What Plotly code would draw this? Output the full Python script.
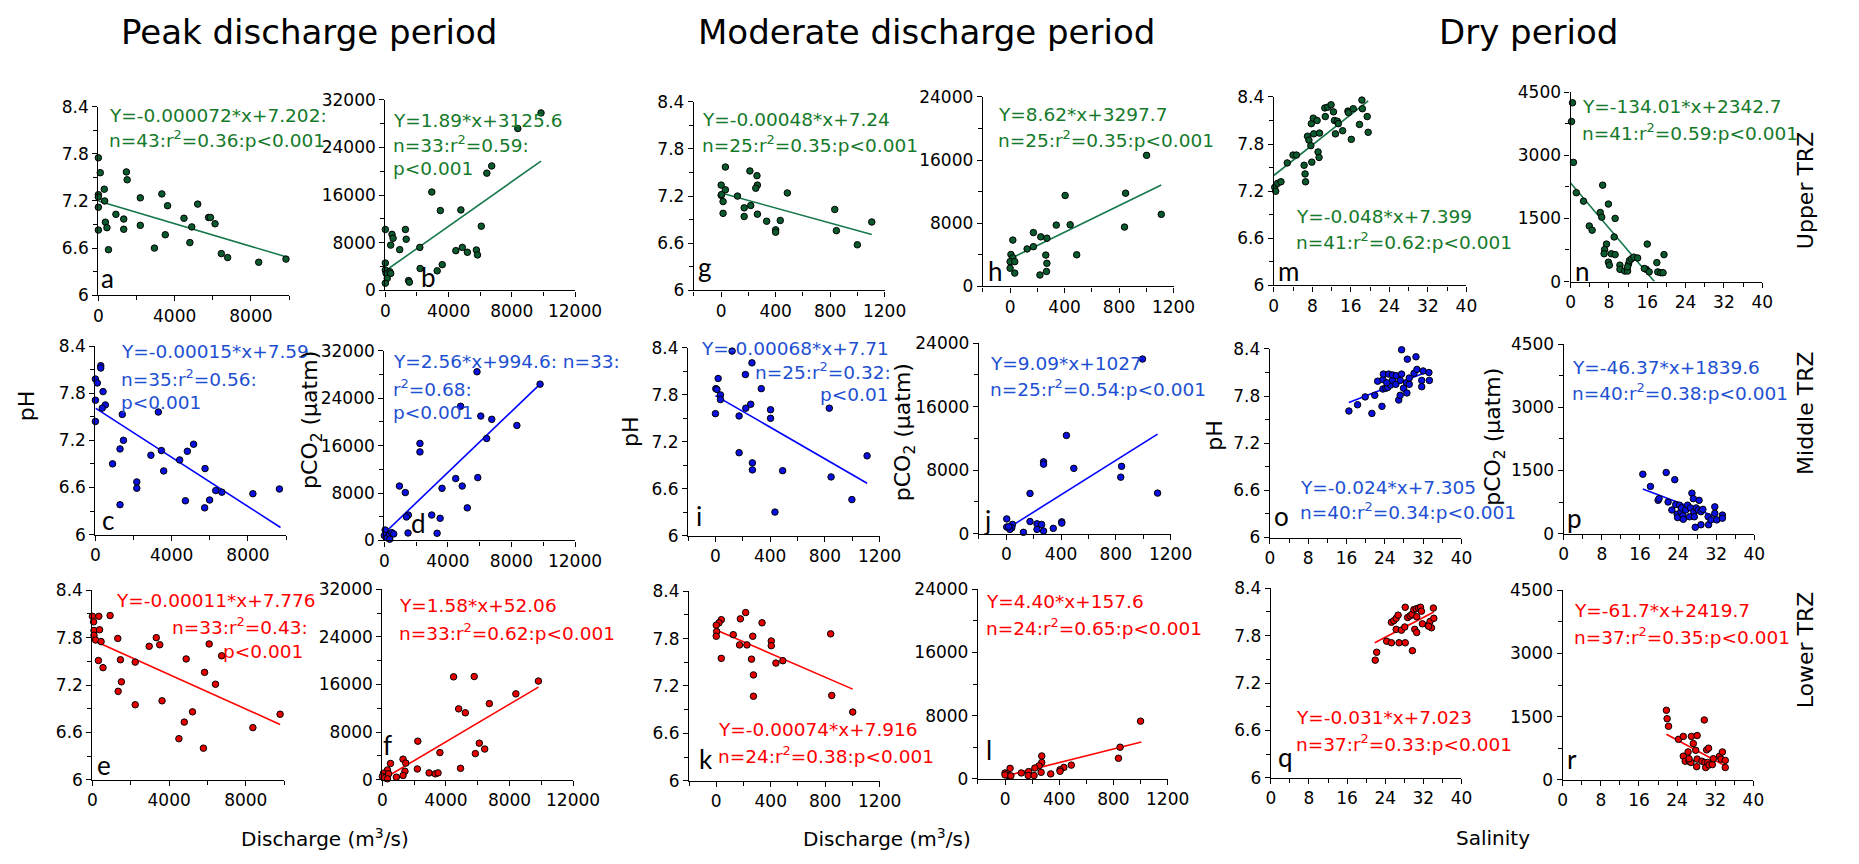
import plotly.graph_objects as go

W, H = 1859, 864

# ---------------- data ----------------
# Peak discharge period (x = discharge, m3/s)
a_x = [0, 100, 310, 0, 0, 330, 0, 370, 450, 0, 530, 920, 1330, 1330, 1470, 1510, 2200, 2200, 2940, 3330,
       3510, 3630, 4490, 4800, 4900, 5210, 5780, 5880, 6120, 6450, 6780, 8410, 9840]
a_y = [7.75, 7.56, 7.35, 7.28, 7.25, 7.20, 7.12, 6.93, 6.86, 6.83, 6.58, 7.03, 6.97, 6.84, 7.57, 7.47, 7.24, 6.89, 6.60, 7.29,
       6.77, 7.14, 6.98, 6.67, 6.87, 7.16, 6.99, 6.99, 6.91, 6.53, 6.48, 6.42, 6.46]
a_fit_x = [0, 9840]
a_fit_y = [7.20, 6.49]

b_x = [9850, 8380, 6730, 6420, 2940, 3480, 4780, 6070, 0, 420, 490, 1270, 1320, 340, 910, 2180, 4460, 4870, 5190, 5760,
       5830, 0, 0, 50, 290, 340, 120, 0, 2200, 3280, 3600, 1470, 1520]
b_y = [29810, 27190, 20900, 19690, 16520, 13400, 13510, 10780, 10230, 9410, 8750, 10230, 8590, 7600, 6840, 7220, 6670, 7220, 6400, 6780,
       5960, 4590, 3390, 2840, 3120, 2840, 2020, 1200, 3670, 3280, 4320, 1640, 1370]
b_fit_x = [0, 9850]
b_fit_y = [3280, 21720]

c_x = [0, 100, 280, 280, 400, 0, 520, 360, 0, 1410, 1470, 1290, 900, 2170, 2170, 1290, 2910, 3300, 3460, 3580,
       4420, 4820, 5150, 4720, 5750, 5730, 5990, 6310, 6630, 8260, 9650]
c_y = [7.98, 7.93, 8.15, 8.12, 7.82, 7.71, 7.65, 7.61, 7.44, 7.53, 7.20, 7.09, 6.90, 6.67, 6.59, 6.38, 7.01, 7.56, 7.07, 6.81,
       6.95, 7.06, 7.15, 6.43, 6.84, 6.34, 6.44, 6.56, 6.54, 6.52, 6.58]
c_fit_x = [0, 9710]
c_fit_y = [7.61, 6.09]

d_x = [9800, 5830, 4800, 6070, 6760, 8340, 6440, 2240, 2240, 4490, 5880, 4900, 5220, 950, 1320, 3630, 2980, 3510, 1510, 1390,
       3320, 1490, 50, 0, 170, 340, 460, 590, 340]
d_y = [26390, 28480, 22650, 21000, 20450, 19410, 17210, 16380, 14950, 10450, 10610, 9180, 5500, 9180, 8080, 8800, 4290, 3740, 4290, 3960,
       1210, 1260, 1760, 820, 440, 990, 1320, 1100, 220]
d_fit_x = [0, 9800]
d_fit_y = [1210, 26390]

e_x = [0, 330, 920, 60, 80, 370, 80, 160, 450, 1320, 310, 550, 1460, 1510, 1340, 2230, 2230, 2960, 3330, 3510,
       3630, 4890, 4510, 4790, 5220, 5850, 5790, 6090, 6420, 6740, 8370, 9790]
e_y = [8.07, 8.07, 8.08, 8.00, 7.89, 7.90, 7.83, 7.77, 7.75, 7.79, 7.51, 7.42, 7.52, 7.24, 7.12, 7.49, 6.95, 7.69, 7.80, 7.71,
       7.00, 7.53, 6.52, 6.73, 6.86, 7.36, 6.40, 7.72, 7.21, 7.57, 6.66, 6.83]
e_fit_x = [0, 9790]
e_fit_y = [7.77, 6.70]

f_x = [9820, 8400, 6730, 4480, 5780, 4800, 5220, 2230, 3620, 6100, 6440, 5850, 4920, 2200, 2940, 3330, 3500, 1300, 1470, 1420,
       1300, 510, 320, 880, 70, 0, 150, 390, 320]
f_y = [16580, 14430, 12790, 17290, 17340, 11910, 11250, 6480, 4560, 6150, 5160, 4390, 1920, 1810, 1150, 990, 1150, 3460, 2800, 1430,
       710, 2740, 1650, 440, 1100, 550, 330, 990, 160]
f_fit_x = [100, 9820]
f_fit_y = [210, 15570]

# Moderate discharge period
g_x = [31, 0, 0, 3, 31, 14, 14, 120, 169, 169, 211, 217, 263, 266, 254, 266, 334, 400, 400, 434, 486, 834, 846, 1000, 1106]
g_y = [7.57, 7.34, 7.21, 7.22, 7.28, 7.13, 6.98, 7.20, 7.05, 6.94, 7.52, 7.08, 7.46, 7.34, 7.30, 6.97, 6.88, 6.77, 6.74, 6.89,
       7.24, 7.03, 6.76, 6.58, 6.87]
g_fit_x = [0, 1106]
g_fit_y = [7.24, 6.71]

h_x = [1002, 848, 404, 1110, 339, 441, 840, 171, 225, 270, 20, 125, 171, 6, 20, 262, 489, 0, 34, 270, 0, 34, 219, 267]
h_y = [16600, 11810, 11520, 9130, 7770, 7810, 7520, 6820, 6280, 6110, 5870, 4750, 5040, 4050, 3630, 3970, 4010, 3140, 3140, 2930,
       2310, 1690, 1450, 1900]
h_fit_x = [6, 1110]
h_fit_y = [3550, 12850]

i_x = [122, 267, 219, 20, 3, 11, 335, 37, 37, 258, 222, 403, 832, 0, 173, 403, 173, 270, 270, 491, 1108, 845, 997, 435]
i_y = [8.36, 8.21, 8.06, 8.01, 7.88, 7.87, 7.88, 7.80, 7.74, 7.68, 7.63, 7.61, 7.63, 7.56, 7.53, 7.50, 7.06, 6.93, 6.84, 6.83,
       7.02, 6.75, 6.46, 6.30]
i_fit_x = [0, 1108]
i_fit_y = [7.79, 6.67]

j_x = [995, 439, 272, 272, 493, 842, 836, 1105, 173, 3, 173, 405, 405, 224, 258, 3, 45, 40, 26, 343, 224, 272, 125, 17]
j_y = [21990, 12370, 9040, 8750, 8220, 8470, 7110, 5100, 5060, 1850, 1520, 1480, 1320, 1230, 1150, 820, 1150, 740, 530, 660,
       530, 330, 160, 860]
j_fit_x = [17, 1105]
j_fit_y = [740, 12540]

k_x = [216, 177, 37, 20, 0, 336, 3, 0, 125, 268, 840, 404, 404, 171, 225, 37, 259, 438, 489, 273, 273, 848, 1002]
k_y = [8.13, 8.05, 8.04, 8.00, 7.97, 8.00, 7.89, 7.83, 7.85, 7.83, 7.86, 7.77, 7.71, 7.72, 7.72, 7.55, 7.54, 7.49, 7.52, 7.34,
       7.07, 7.08, 6.87]
k_fit_x = [0, 1002]
k_fit_y = [7.91, 7.16]

l_x = [1000, 849, 837, 271, 271, 251, 220, 489, 434, 406, 406, 37, 0, 14, 120, 174, 266, 337, 171, 214, 23, 0, 43]
l_y = [7300, 4000, 2600, 2890, 2060, 1650, 1360, 1730, 1440, 1150, 950, 1320, 740, 620, 740, 910, 820, 620, 410, 410,
       410, 490, 370]
l_fit_x = [0, 1006]
l_fit_y = [330, 4660]

# Dry period (x = salinity)
m_x = [0.2, 0.4, 0.8, 1.5, 2.8, 4.0, 4.7, 6.3, 6.5, 6.6, 7.0, 7.3, 7.7, 7.9, 7.8, 8.2, 8.3, 9.0, 9.2, 9.4,
       9.5, 10.6, 10.7, 11.2, 11.9, 12.4, 12.6, 12.8, 13.2, 13.4, 14.3, 15.4, 15.5, 16.1, 16.5, 17.8, 18.3, 18.4, 19.4, 19.6]
m_y = [7.25, 7.20, 7.30, 7.32, 7.56, 7.66, 7.66, 7.53, 7.42, 7.32, 7.90, 7.85, 7.78, 7.57, 8.06, 8.13, 7.93, 8.10, 7.70, 7.63,
       7.94, 8.26, 8.15, 8.27, 8.30, 8.21, 8.10, 7.93, 8.09, 8.06, 7.97, 8.22, 8.20, 7.86, 8.25, 8.05, 8.36, 8.25, 8.15, 7.95]
m_fit_x = [0, 19.6]
m_fit_y = [7.40, 8.35]

n_x = [0.4, 0.2, 0.6, 1.2, 2.7, 3.9, 4.5, 6.7, 6.2, 6.5, 7.9, 9.3, 9.1, 7.5, 7.1, 7.0, 7.9, 8.1, 8.5, 9.3,
       10.3, 10.3, 11.3, 11.9, 12.1, 12.3, 12.7, 13.2, 14.0, 11.9, 15.8, 15.4, 16.0, 16.4, 18.0, 18.2, 18.8, 19.3, 19.5]
n_y = [4245, 3800, 2830, 2110, 1910, 1320, 1220, 2290, 1640, 1530, 1840, 1500, 1060, 890, 760, 660, 460, 390, 660, 640,
       390, 290, 250, 250, 420, 500, 540, 580, 560, 350, 290, 310, 890, 230, 450, 230, 210, 210, 640]
n_fit_x = [0, 17.5]
n_fit_y = [2342.7, 0]

o_x = [16.5, 18.3, 19.9, 21.3, 21.9, 22.5, 23.4, 23.6, 23.7, 23.6, 24.2, 24.6, 24.8, 25.2, 25.6, 25.6, 26.3, 26.4, 26.9, 27.2,
       27.2, 27.5, 27.5, 27.9, 28.5, 28.6, 28.7, 29.1, 29.1, 30.1, 30.5, 30.7, 31.7, 31.7, 32.0, 33.2, 33.3, 24.4]
o_y = [7.61, 7.69, 7.79, 7.58, 7.81, 7.99, 7.67, 8.01, 8.08, 7.89, 7.90, 7.91, 8.08, 7.94, 8.00, 8.07, 7.95, 8.06, 7.75, 8.00,
       7.81, 8.08, 8.39, 7.90, 7.97, 7.84, 8.27, 7.95, 8.03, 8.09, 8.30, 8.14, 8.00, 7.92, 8.12, 8.10, 8.00, 7.97]
o_fit_x = [16.5, 33.3]
o_fit_y = [7.72, 8.12]

p_x = [16.6, 18.2, 19.8, 20.0, 21.5, 21.9, 22.7, 23.3, 23.5, 23.8, 23.9, 24.3, 24.6, 24.7, 25.0, 25.1, 25.6, 26.0, 26.4, 26.6,
       26.9, 27.2, 27.3, 27.4, 27.6, 27.8, 28.2, 28.4, 28.8, 29.2, 28.8, 30.3, 30.4, 30.9, 31.7, 31.7, 32.1, 33.3, 33.3]
p_y = [1410, 1120, 790, 830, 1450, 750, 560, 1280, 690, 460, 380, 675, 520, 610, 425, 340, 560, 675, 400, 610,
       960, 830, 520, 400, 150, 610, 560, 790, 520, 575, 210, 400, 210, 325, 635, 480, 325, 440, 365]
p_fit_x = [16.6, 33.3]
p_fit_y = [1060, 340]

q_x = [21.9, 22.2, 24.3, 25.3, 26.9, 28.2, 29.7, 25.3, 25.8, 26.3, 26.7, 26.3, 27.4, 28.1, 28.2, 28.7, 29.2, 29.6, 30.0, 30.5,
       30.6, 30.2, 30.6, 31.0, 31.4, 31.6, 31.8, 33.0, 33.4, 33.7, 34.1, 34.2, 33.1]
q_y = [7.49, 7.59, 7.73, 7.71, 7.71, 7.71, 7.61, 7.97, 7.99, 8.02, 8.06, 7.88, 7.87, 7.91, 8.16, 8.03, 8.05, 8.07, 8.13, 8.14,
       8.04, 7.88, 7.84, 8.15, 8.16, 8.11, 7.95, 7.93, 7.98, 7.90, 8.15, 8.02, 7.92]
q_fit_x = [21.8, 34.2]
q_fit_y = [7.71, 8.10]

r_x = [21.75, 21.9, 22.2, 29.7, 24.3, 25.3, 27.0, 28.2, 27.4, 25.3, 25.7, 26.3, 26.5, 26.9, 28.2, 28.1, 27.9, 29.2, 29.8, 30.2,
       30.6, 30.0, 30.4, 30.7, 31.4, 31.6, 32.9, 33.5, 33.2, 34.1, 34.1, 26.5]
r_y = [1650, 1450, 1270, 1420, 960, 1030, 1030, 1050, 860, 560, 440, 660, 440, 410, 490, 310, 700, 440, 410, 710,
       750, 290, 410, 350, 360, 500, 560, 660, 490, 460, 290, 500]
r_fit_x = [21.75, 34.1]
r_fit_y = [1080, 330]

# regression labels
a_eq = ["Y=-0.000072*x+7.202:", "n=43:r<sup>2</sup>=0.36:p&lt;0.001"]
b_eq = ["Y=1.89*x+3125.6", "n=33:r<sup>2</sup>=0.59:", "p&lt;0.001"]
c_eq = ["Y=-0.00015*x+7.59", "n=35:r<sup>2</sup>=0.56:", "p&lt;0.001"]
d_eq = ["Y=2.56*x+994.6: n=33:", "r<sup>2</sup>=0.68:", "p&lt;0.001"]
e_eq = ["Y=-0.00011*x+7.776", "n=33:r<sup>2</sup>=0.43:", "p&lt;0.001"]
f_eq = ["Y=1.58*x+52.06", "n=33:r<sup>2</sup>=0.62:p&lt;0.001"]
g_eq = ["Y=-0.00048*x+7.24", "n=25:r<sup>2</sup>=0.35:p&lt;0.001"]
h_eq = ["Y=8.62*x+3297.7", "n=25:r<sup>2</sup>=0.35:p&lt;0.001"]
i_eq = ["Y=-0.00068*x+7.71", "n=25:r<sup>2</sup>=0.32:", "p&lt;0.01"]
j_eq = ["Y=9.09*x+1027", "n=25:r<sup>2</sup>=0.54:p&lt;0.001"]
k_eq = ["Y=-0.00074*x+7.916", "n=24:r<sup>2</sup>=0.38:p&lt;0.001"]
l_eq = ["Y=4.40*x+157.6", "n=24:r<sup>2</sup>=0.65:p&lt;0.001"]
m_eq = ["Y=-0.048*x+7.399", "n=41:r<sup>2</sup>=0.62:p&lt;0.001"]
n_eq = ["Y=-134.01*x+2342.7", "n=41:r<sup>2</sup>=0.59:p&lt;0.001"]
o_eq = ["Y=-0.024*x+7.305", "n=40:r<sup>2</sup>=0.34:p&lt;0.001"]
p_eq = ["Y=-46.37*x+1839.6", "n=40:r<sup>2</sup>=0.38:p&lt;0.001"]
q_eq = ["Y=-0.031*x+7.023", "n=37:r<sup>2</sup>=0.33:p&lt;0.001"]
r_eq = ["Y=-61.7*x+2419.7", "n=37:r<sup>2</sup>=0.35:p&lt;0.001"]

period_titles = ["Peak discharge period", "Moderate discharge period", "Dry period"]
zone_labels = ["Upper TRZ", "Middle TRZ", "Lower TRZ"]

# ---------------- styles / layout ----------------
FONT = "DejaVu Sans, Liberation Sans, Arial, sans-serif"
STY = {
    "green": dict(text="#157a2a", fill="#0b5a2e", line="#16784a"),
    "blue": dict(text="#1e50d2", fill="#0a10e0", line="#0000ff"),
    "red": dict(text="#ff0000", fill="#e60000", line="#ff0000"),
}
XSPEC = {
    "q1": dict(range=[0, 10000], dtick=4000, minor=2000),
    "q2": dict(range=[0, 12000], dtick=4000, minor=2000),
    "mod": dict(range=[-200, 1200], dtick=400, minor=200),
    "sal": dict(range=[0, 40], dtick=8, minor=4),
}
YSPEC = {
    "ph": dict(range=[6, 8.4], dtick=0.6, minor=0.3),
    "c32": dict(range=[0, 32000], dtick=8000, minor=4000),
    "c24": dict(range=[0, 24000], dtick=8000, minor=4000),
    "c45": dict(range=[0, 4500], dtick=1500, minor=750),
}

# letter, x, y, fit x, fit y, eq lines, box px (left,right,top,bottom), xspec, yspec, colour,
# eq anchor ('l' or 'r'), eq x px, eq y px list, letter px (x, y)
panels = [
    ("a", a_x, a_y, a_fit_x, a_fit_y, a_eq, (95, 289, 99, 292), "q1", "ph", "green", "l", 104, [108, 132], (96, 274)),
    ("b", b_x, b_y, b_fit_x, b_fit_y, b_eq, (387, 580, 92, 287), "q2", "c32", "green", "l", 393, [113, 137, 162], (421, 273)),
    ("c", c_x, c_y, c_fit_x, c_fit_y, c_eq, (92, 286, 344, 537), "q1", "ph", "blue", "l", 116, [350, 377, 402], (97, 522)),
    ("d", d_x, d_y, d_fit_x, d_fit_y, d_eq, (386, 580, 349, 543), "q2", "c32", "blue", "l", 393, [360, 387, 412], (411, 525)),
    ("e", e_x, e_y, e_fit_x, e_fit_y, e_eq, (89, 284, 594, 788), "q1", "ph", "red", "r", [318, 310, 305], [605, 631, 657], (92, 773)),
    ("f", f_x, f_y, f_fit_x, f_fit_y, f_eq, (384, 578, 593, 788), "q2", "c32", "red", "l", 399, [610, 637], (383, 752)),
    ("g", g_x, g_y, g_fit_x, g_fit_y, g_eq, (701, 895, 94, 287), "mod", "ph", "green", "l", 707, [112, 137], (703, 263)),
    ("h", h_x, h_y, h_fit_x, h_fit_y, h_eq, (995, 1189, 89, 283), "mod", "c24", "green", "l", 1008, [107, 132], (998, 267)),
    ("i", i_x, i_y, i_fit_x, i_fit_y, i_eq, (695, 890, 346, 538), "mod", "ph", "blue", "r", [902, 904, 900], [347, 370, 394], (701, 518)),
    ("j", j_x, j_y, j_fit_x, j_fit_y, j_eq, (991, 1186, 341, 536), "mod", "c24", "blue", "l", 1000, [362, 387], (994, 522)),
    ("k", k_x, k_y, k_fit_x, k_fit_y, k_eq, (696, 890, 595, 789), "mod", "ph", "red", "l", 723, [737, 763], (704, 767)),
    ("l", l_x, l_y, l_fit_x, l_fit_y, l_eq, (990, 1183, 593, 787), "mod", "c24", "red", "l", 996, [606, 632], (996, 758)),
    ("m", m_x, m_y, m_fit_x, m_fit_y, m_eq, (1291, 1487, 89, 282), "sal", "ph", "green", "l", 1312, [211, 236], (1293, 267)),
    ("n", n_x, n_y, n_fit_x, n_fit_y, n_eq, (1593, 1788, 84, 278), "sal", "c45", "green", "l", 1603, [99, 125], (1595, 267)),
    ("o", o_x, o_y, o_fit_x, o_fit_y, o_eq, (1287, 1482, 347, 540), "sal", "ph", "blue", "l", 1316, [489, 513], (1289, 518)),
    ("p", p_x, p_y, p_fit_x, p_fit_y, p_eq, (1586, 1780, 342, 536), "sal", "c45", "blue", "l", 1592, [366, 391], (1587, 520)),
    ("q", q_x, q_y, q_fit_x, q_fit_y, q_eq, (1288, 1482, 592, 786), "sal", "ph", "red", "l", 1312, [724, 750], (1293, 765)),
    ("r", r_x, r_y, r_fit_x, r_fit_y, r_eq, (1585, 1779, 594, 788), "sal", "c45", "red", "l", 1594, [615, 641], (1587, 767)),
]


def px(xp):
    return xp / W


def py(yp):
    return 1 - yp / H


fig = go.Figure()
layout = dict(
    width=W, height=H, margin=dict(l=0, r=0, t=0, b=0),
    paper_bgcolor="white", plot_bgcolor="white", showlegend=False,
    font=dict(family=FONT, color="black", size=17),
)
annotations = []

for idx, (lab, xs, ys, fx, fy, eq, box, xs_key, ys_key, col, anc, eqx, eqy, lpos) in enumerate(panels, start=1):
    sfx = "" if idx == 1 else str(idx)
    st = STY[col]
    fig.add_trace(go.Scatter(
        x=fx, y=fy, mode="lines", line=dict(color=st["line"], width=1.6),
        xaxis="x" + sfx, yaxis="y" + sfx, hoverinfo="skip"))
    fig.add_trace(go.Scatter(
        x=xs, y=ys, mode="markers", cliponaxis=False,
        marker=dict(size=6.5, color=st["fill"], line=dict(color="black", width=1)),
        xaxis="x" + sfx, yaxis="y" + sfx))
    left, right, top, bottom = box
    xsp, ysp = XSPEC[xs_key], YSPEC[ys_key]
    common = dict(showline=True, linecolor="black", linewidth=1.3, ticks="outside", ticklen=5,
                  tickwidth=1.2, tickcolor="black", showgrid=False, zeroline=False,
                  tickfont=dict(family=FONT, size=17, color="black"), tickformat="d")
    layout["xaxis" + sfx] = dict(
        common, domain=[px(left), px(right)], range=xsp["range"], tick0=0, dtick=xsp["dtick"],
        minor=dict(dtick=xsp["minor"], tick0=0, ticks="outside", ticklen=4, tickcolor="black", tickwidth=1.2),
        anchor="y" + sfx)
    ycommon = dict(common)
    if ys_key == "ph":
        ycommon["tickformat"] = ""
    layout["yaxis" + sfx] = dict(
        ycommon, domain=[py(bottom), py(top)], range=ysp["range"], tick0=ysp["range"][0], dtick=ysp["dtick"],
        minor=dict(dtick=ysp["minor"], tick0=ysp["range"][0], ticks="outside", ticklen=4, tickcolor="black", tickwidth=1.2),
        anchor="x" + sfx)
    # equation text
    for k, line in enumerate(eq):
        xx = eqx[k] if isinstance(eqx, list) else eqx
        annotations.append(dict(
            text=line, x=px(xx), y=py(eqy[k]), xref="paper", yref="paper",
            xanchor="left" if anc == "l" else "right", yanchor="middle", showarrow=False,
            font=dict(family=FONT, size=18.5, color=st["text"])))
    # panel letter
    annotations.append(dict(
        text=lab, x=px(lpos[0]), y=py(lpos[1]), xref="paper", yref="paper",
        xanchor="left", yanchor="middle", showarrow=False,
        font=dict(family="Lato, Open Sans, sans-serif", size=26, color="black")))

# period titles
for t, cx in zip(period_titles, [309, 938, 1550]):
    annotations.append(dict(text=t, x=px(cx), y=py(23), xref="paper", yref="paper",
                            xanchor="center", yanchor="middle", showarrow=False,
                            font=dict(family=FONT, size=34, color="black")))

# y-axis titles
for t, xx, yy in [("pH", 22, 405), ("pCO<sub>2</sub> (µatm)", 312, 420), ("pH", 636, 432),
                  ("pCO<sub>2</sub> (µatm)", 915, 432), ("pH", 1231, 435), ("pCO<sub>2</sub> (µatm)", 1516, 437)]:
    annotations.append(dict(text=t, x=px(xx), y=py(yy), xref="paper", yref="paper", textangle=-90,
                            xanchor="center", yanchor="middle", showarrow=False,
                            font=dict(family=FONT, size=22, color="black")))

# zone labels
for t, yy in zip(zone_labels, [185, 413, 655]):
    annotations.append(dict(text=t, x=px(1832), y=py(yy), xref="paper", yref="paper", textangle=-90,
                            xanchor="center", yanchor="middle", showarrow=False,
                            font=dict(family=FONT, size=22, color="black")))

# x-axis titles
for t, xx in [("Discharge (m<sup>3</sup>/s)", 326), ("Discharge (m<sup>3</sup>/s)", 897), ("Salinity", 1514)]:
    annotations.append(dict(text=t, x=px(xx), y=py(848), xref="paper", yref="paper",
                            xanchor="center", yanchor="middle", showarrow=False,
                            font=dict(family=FONT, size=20, color="black")))

layout["annotations"] = annotations
fig.update_layout(**layout)
fig.write_html("out.html")
